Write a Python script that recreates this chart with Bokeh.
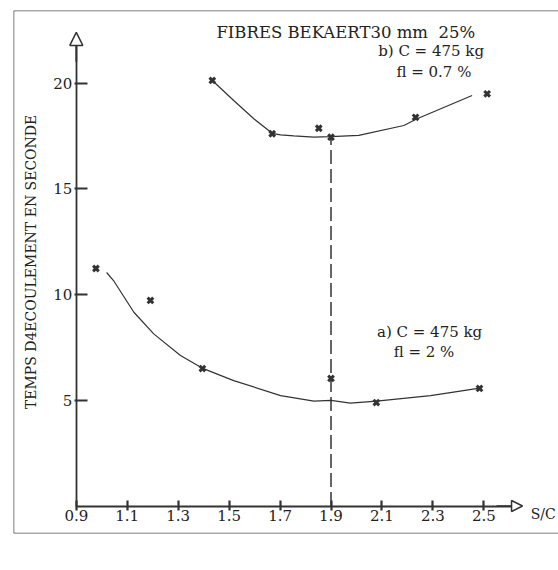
import math
from bokeh.plotting import figure
from bokeh.models import Range1d, LinearAxis, FixedTicker, Arrow, NormalHead, Label, Span
from bokeh.embed import file_html
from bokeh.resources import INLINE

# ---- data ----
# series a) C = 475 kg, fl = 2 %
pts_a_x = [0.977, 1.191, 1.395, 1.90, 2.078, 2.483]
pts_a_y = [11.23, 9.72, 6.50, 6.03, 4.89, 5.56]
curve_a_x = [1.019, 1.046, 1.126, 1.204, 1.309, 1.394, 1.518, 1.702, 1.833, 1.90, 1.976, 2.079, 2.291, 2.484]
curve_a_y = [11.04, 10.66, 9.16, 8.14, 7.12, 6.52, 5.93, 5.22, 4.96, 4.99, 4.86, 4.96, 5.22, 5.57]
# series b) C = 475 kg, fl = 0.7 %
pts_b_x = [1.434, 1.669, 1.852, 1.90, 2.232, 2.513]
pts_b_y = [20.12, 17.60, 17.86, 17.44, 18.38, 19.49]
curve_b_x = [1.434, 1.518, 1.597, 1.669, 1.702, 1.754, 1.833, 1.90, 2.009, 2.186, 2.238, 2.454]
curve_b_y = [20.12, 19.17, 18.31, 17.62, 17.55, 17.50, 17.44, 17.46, 17.52, 17.99, 18.31, 19.41]
optimum_index = 3  # point of series b at S/C = 1.9

x_ticks = [0.9, 1.1, 1.3, 1.5, 1.7, 1.9, 2.1, 2.3, 2.5]
y_ticks = [5, 10, 15, 20]

title_text = "FIBRES BEKAERT30 mm\u00a0 25%"
label_b1 = "b) C = 475 kg"
label_b2 = "fl = 0.7 %"
label_a1 = "a) C = 475 kg"
label_a2 = "fl = 2 %"
x_title = "S/C"
y_title = "TEMPS D4ECOULEMENT EN SECONDE"

# ---- figure ----
FONT = "DejaVu Serif"
INK = "#222222"
LINE = "#333333"

p = figure(width=558, height=570, output_backend="svg", toolbar_location=None,
           x_axis_type=None, y_axis_type=None,
           x_range=Range1d(0.6534, 2.7932), y_range=Range1d(-1.300, 23.428),
           min_border_left=13, min_border_right=0, min_border_top=10, min_border_bottom=37)
p.grid.visible = False
p.outline_line_color = None
p.background_fill_color = "white"
p.border_fill_color = "white"

# outer frame (left, top, bottom)
for loc, dim in [(p.x_range.start, "height"), (p.y_range.end, "width"), (p.y_range.start, "width")]:
    p.add_layout(Span(location=loc, dimension=dim, line_color="#555555", line_width=1.5))

# axes crossing at (0.9, 0)
xaxis = LinearAxis(ticker=FixedTicker(ticks=x_ticks), fixed_location=0, bounds=(x_ticks[0], 2.64))
yaxis = LinearAxis(ticker=FixedTicker(ticks=y_ticks), fixed_location=x_ticks[0], bounds=(0, 22.0))
for ax in (xaxis, yaxis):
    ax.axis_line_color = LINE
    ax.axis_line_width = 1.8
    ax.major_tick_line_color = LINE
    ax.major_tick_line_width = 2.2
    ax.minor_tick_line_color = None
    ax.major_label_text_font = FONT
    ax.major_label_text_font_size = "15px"
    ax.major_label_text_color = INK
xaxis.major_tick_in = 6
xaxis.major_tick_out = 4
xaxis.major_label_standoff = 0
yaxis.major_tick_in = 11
yaxis.major_tick_out = 2
yaxis.major_label_standoff = 2
p.add_layout(xaxis, "below")
p.add_layout(yaxis, "left")

# axis arrows
p.add_layout(Arrow(x_start=2.55, y_start=0, x_end=2.652, y_end=0, line_color=LINE, line_width=1.5,
                   end=NormalHead(size=11, fill_color="white", line_color=LINE, line_width=1.5)))
p.add_layout(Arrow(x_start=x_ticks[0], y_start=21.0, x_end=x_ticks[0], y_end=22.39, line_color=LINE, line_width=1.8,
                   end=NormalHead(size=13, fill_color="white", line_color=LINE, line_width=1.5)))

# curves
p.line(curve_a_x, curve_a_y, line_color=LINE, line_width=1.2)
p.line(curve_b_x, curve_b_y, line_color=LINE, line_width=1.2)

# dashed optimum line
p.line([pts_b_x[optimum_index]] * 2, [0, pts_b_y[optimum_index]], line_color=LINE,
       line_width=1.5, line_dash="14 5")

# points
p.scatter(pts_a_x, pts_a_y, marker="x", size=8, line_width=3, line_color=LINE)
p.scatter(pts_b_x, pts_b_y, marker="x", size=8, line_width=3, line_color=LINE)

# texts
def lab(x, y, text, align="left", size="15px", angle=0.0):
    p.add_layout(Label(x=x, y=y, text=text, text_font=FONT, text_font_size=size,
                       text_color=INK, text_align=align, text_baseline="middle", angle=angle))

lab(1.450, 22.41, title_text, "left", "16.5px")
lab(2.293, 21.49, label_b1, "center")
lab(2.304, 20.52, label_b2, "center")
lab(2.287, 8.23, label_a1, "center")
lab(2.265, 7.30, label_a2, "center")
lab(2.684, -0.40, x_title, "left", "14px")
lab(0.724, 11.54, y_title, "center", "14px", math.pi / 2)

open("out.html", "w").write(file_html(p, INLINE))
